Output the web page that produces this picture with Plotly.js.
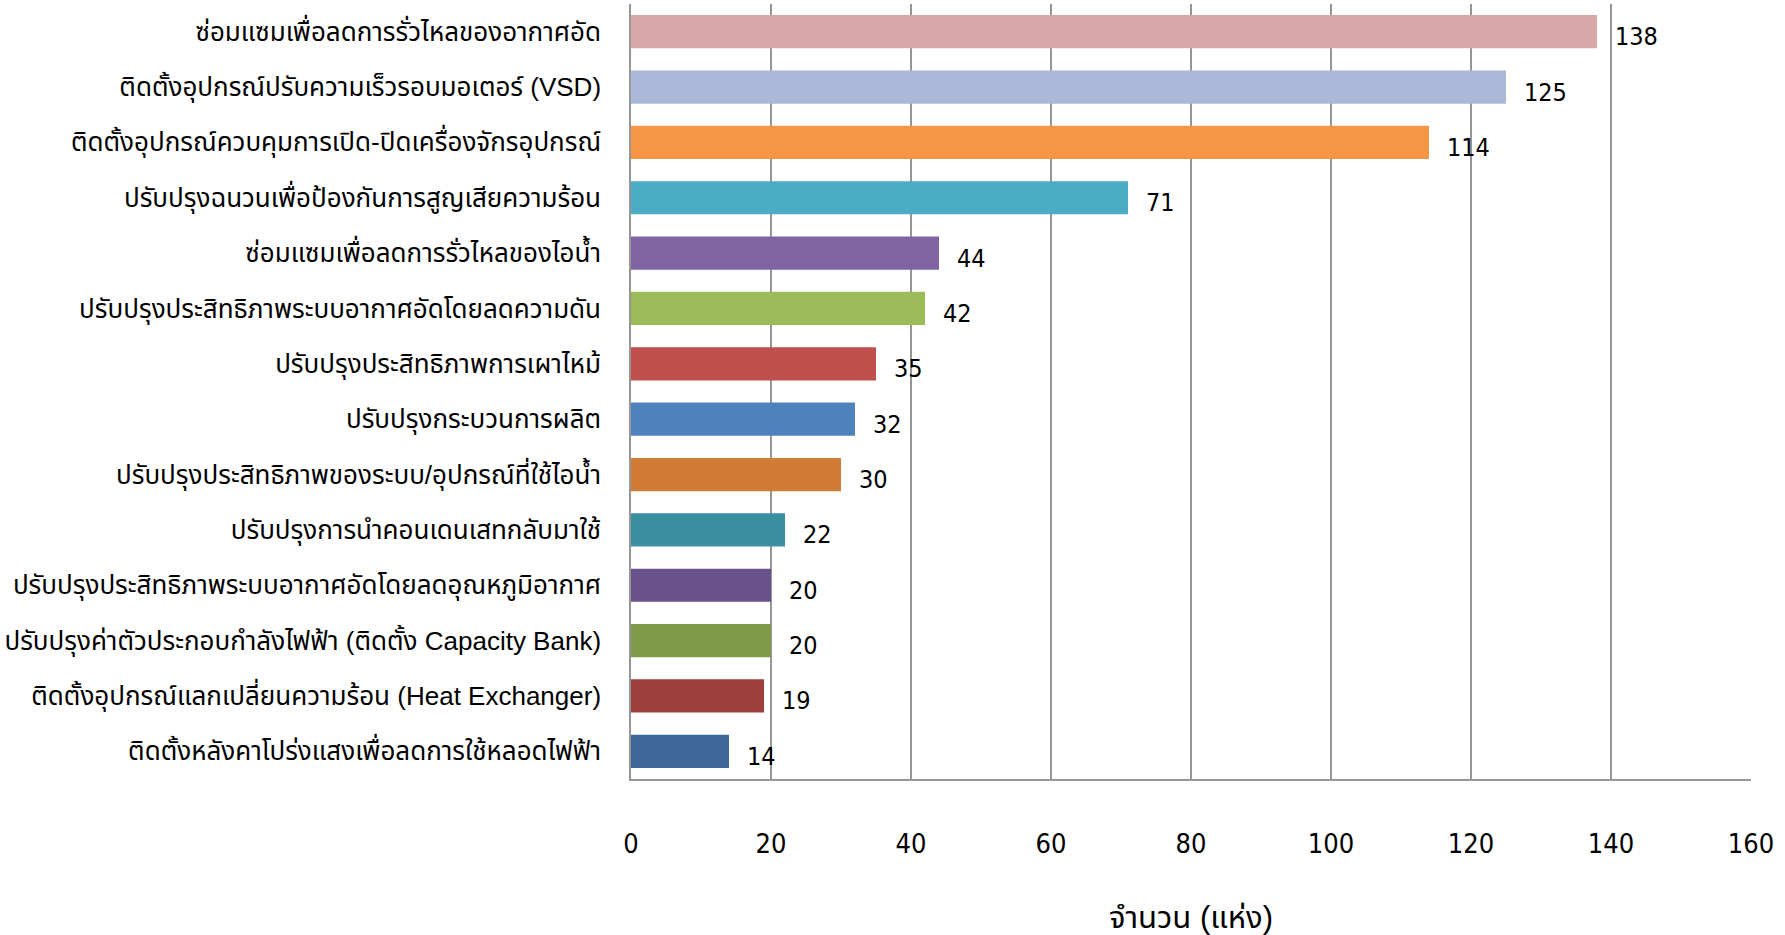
<!DOCTYPE html>
<html>
<head>
<meta charset="utf-8">
<script src="https://cdn.plot.ly/plotly-3.0.1.min.js"></script>
<style>html,body{margin:0;padding:0;background:#fff;}#chart{width:1785px;height:935px;}</style>
</head>
<body>
<div id="chart"></div>
<script>
const categories = [
  "ซ่อมแซมเพื่อลดการรั่วไหลของอากาศอัด",
  "ติดตั้งอุปกรณ์ปรับความเร็วรอบมอเตอร์ (VSD)",
  "ติดตั้งอุปกรณ์ควบคุมการเปิด-ปิดเครื่องจักรอุปกรณ์",
  "ปรับปรุงฉนวนเพื่อป้องกันการสูญเสียความร้อน",
  "ซ่อมแซมเพื่อลดการรั่วไหลของไอน้ำ",
  "ปรับปรุงประสิทธิภาพระบบอากาศอัดโดยลดความดัน",
  "ปรับปรุงประสิทธิภาพการเผาไหม้",
  "ปรับปรุงกระบวนการผลิต",
  "ปรับปรุงประสิทธิภาพของระบบ/อุปกรณ์ที่ใช้ไอน้ำ",
  "ปรับปรุงการนำคอนเดนเสทกลับมาใช้",
  "ปรับปรุงประสิทธิภาพระบบอากาศอัดโดยลดอุณหภูมิอากาศ",
  "ปรับปรุงค่าตัวประกอบกำลังไฟฟ้า (ติดตั้ง Capacity Bank)",
  "ติดตั้งอุปกรณ์แลกเปลี่ยนความร้อน (Heat Exchanger)",
  "ติดตั้งหลังคาโปร่งแสงเพื่อลดการใช้หลอดไฟฟ้า"
];
const values = [138, 125, 114, 71, 44, 42, 35, 32, 30, 22, 20, 20, 19, 14];
const barColors = ["#d9a9a9", "#aab9d7", "#f79646", "#4bacc6", "#8064a2", "#9bbb59", "#c0504d",
                   "#4f81bd", "#d07b36", "#3a8fa1", "#69518a", "#7f9b49", "#9e413e", "#3e6797"];
const xTicks = [0, 20, 40, 60, 80, 100, 120, 140, 160];
const xTitle = "จำนวน (แห่ง)";

const thaiFont = "'Liberation Sans', 'Noto Sans Thai', 'Noto Sans', sans-serif";

const trace = {
  type: "bar",
  orientation: "h",
  x: values,
  y: categories,
  marker: {color: barColors, line: {width: 0}},
  hoverinfo: "x+y",
  cliponaxis: false
};

const annotations = values.map((v, i) => ({
  x: v, y: categories[i], xref: "x", yref: "y",
  text: String(v), showarrow: false,
  xanchor: "left", yanchor: "middle",
  xshift: 16, yshift: -5,
  font: {family: "'DejaVu Sans Condensed', 'DejaVu Sans', sans-serif", size: 25, color: "#000"}
}));

const layout = {
  width: 1785, height: 935,
  margin: {l: 631, r: 34, t: 4, b: 156},
  paper_bgcolor: "#fff", plot_bgcolor: "#fff",
  showlegend: false,
  bargap: 0.4,
  xaxis: {
    range: [0, 160],
    tickvals: xTicks,
    ticktext: xTicks.map(String),
    showgrid: true, gridcolor: "#969696", gridwidth: 1.5,
    zeroline: false,
    showline: true, linecolor: "#969696", linewidth: 1.5,
    ticks: "",
    ticklabelstandoff: 40,
    tickfont: {family: "'Liberation Sans Narrow', 'DejaVu Sans Condensed', sans-serif", size: 27, color: "#000"},
    title: {text: xTitle, standoff: 54, font: {family: thaiFont, size: 31, color: "#000"}},
    automargin: false,
    fixedrange: true
  },
  yaxis: {
    type: "category",
    autorange: "reversed",
    showgrid: false,
    zeroline: false,
    showline: true, linecolor: "#969696", linewidth: 1.5,
    ticks: "",
    ticklabelstandoff: 23,
    tickfont: {family: thaiFont, size: 26, color: "#000"},
    automargin: false,
    fixedrange: true
  },
  annotations: annotations
};

Plotly.newPlot("chart", [trace], layout, {displayModeBar: false, responsive: false});
</script>
</body>
</html>
